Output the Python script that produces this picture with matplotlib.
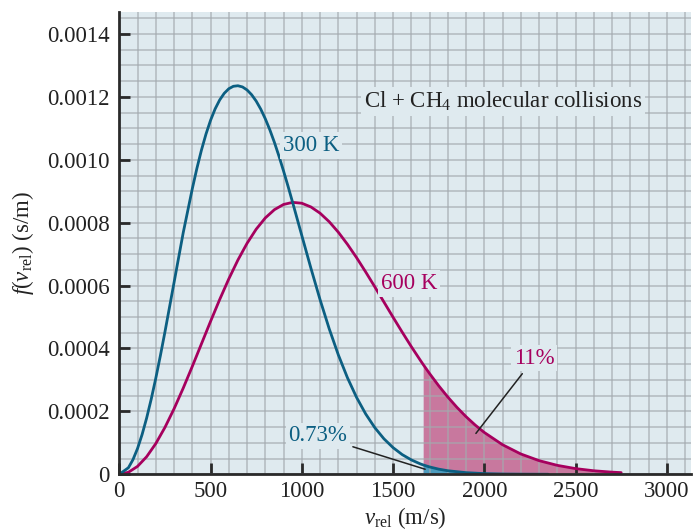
## import necessary libraries
import numpy as np
import matplotlib
matplotlib.use('Agg')
import matplotlib.pyplot as plt
from matplotlib.ticker import MultipleLocator, FixedLocator

# ------------------------------------------------------------------------------------------------
## data (f values in units of 1e-4 s/m)
v_300 = [0, 50, 75, 100, 125, 150, 175, 200, 225, 250, 300, 350, 400, 425, 450, 475, 500,
         525, 550, 575, 600, 625, 650, 675, 700, 725, 750, 775, 800, 825, 850, 875, 900,
         925, 950, 975, 1000, 1050, 1100, 1150, 1200, 1250, 1300, 1350, 1400, 1450, 1500,
         1550, 1600, 1650, 1665, 1700, 1750, 1800, 1900, 2000, 2100, 2200, 2350]
f_300 = [0, 0.209, 0.467, 0.821, 1.266, 1.793, 2.393, 3.056, 3.77, 4.523, 6.097, 7.675,
         9.08, 9.724, 10.306, 10.818, 11.256, 11.618, 11.903, 12.115, 12.26, 12.338, 12.355,
         12.317, 12.221, 12.07, 11.867, 11.612, 11.305, 10.951, 10.552, 10.114, 9.644,
         9.151, 8.638, 8.116, 7.593, 6.552, 5.554, 4.63, 3.80, 3.072, 2.446, 1.919, 1.483,
         1.129, 0.848, 0.627, 0.458, 0.329, 0.298, 0.234, 0.164, 0.113, 0.052, 0.022,
         0.009, 0.004, 0.001]

v_600 = [0, 50, 100, 150, 200, 250, 300, 350, 400, 450, 500, 550, 600, 650, 700, 750, 800,
         850, 900, 950, 1000, 1050, 1100, 1150, 1200, 1250, 1300, 1350, 1400, 1450, 1500,
         1550, 1600, 1650, 1665, 1700, 1750, 1800, 1850, 1900, 1950, 2000, 2100, 2200, 2300,
         2400, 2500, 2600, 2700, 2750]
f_600 = [0, 0.064, 0.252, 0.56, 0.977, 1.49, 2.082, 2.736, 3.431, 4.146, 4.862, 5.557,
         6.213, 6.814, 7.344, 7.793, 8.152, 8.415, 8.58, 8.647, 8.619, 8.501, 8.303, 8.032,
         7.699, 7.314, 6.89, 6.434, 5.961, 5.478, 4.995, 4.521, 4.06, 3.62, 3.492, 3.204,
         2.816, 2.457, 2.129, 1.832, 1.566, 1.33, 0.94, 0.646, 0.434, 0.284, 0.181, 0.112,
         0.068, 0.053]

# speed above which the tails are shaded
v_cut = 1665

x_ticks = [0, 500, 1000, 1500, 2000, 2500, 3000]
y_ticks = [0, 0.0002, 0.0004, 0.0006, 0.0008, 0.0010, 0.0012, 0.0014]
y_tick_labels = ['0', '0.0002', '0.0004', '0.0006', '0.0008', '0.0010', '0.0012', '0.0014']

# ------------------------------------------------------------------------------------------------
## style
BG = '#dfeaef'
BLUE = '#0c5f82'
MAGENTA = '#a6005e'
PINK_FILL = '#c8789e'
BLUE_FILL = '#4d9cbe'
GRID = '#a3aaae'
FS = 16.5

plt.rcParams['font.family'] = ['Liberation Serif', 'DejaVu Serif']
plt.rcParams['mathtext.fontset'] = 'custom'
plt.rcParams['mathtext.rm'] = 'Liberation Serif'
plt.rcParams['mathtext.it'] = 'Liberation Serif:italic'

v3 = np.array(v_300)
f3 = np.array(f_300) * 1e-4
v6 = np.array(v_600)
f6 = np.array(f_600) * 1e-4

fig = plt.figure(figsize=(6.94, 5.31), dpi=100)
ax = fig.add_axes([0.1719, 0.1068, 0.8231, 0.87])
ax.set_facecolor(BG)

# ------------------------------------------------------------------------------------------------
## shaded tails
ax.fill_between(v6, f6, where=v6 >= v_cut, color=PINK_FILL, lw=0, zorder=1)
ax.fill_between(v3, f3, where=v3 >= v_cut, color=BLUE_FILL, lw=0, zorder=1.1)

# curves
ax.plot(v3, f3, color=BLUE, lw=2, zorder=2.2, solid_capstyle='round')
ax.plot(v6, f6, color=MAGENTA, lw=2, zorder=2.1, solid_capstyle='round')

# ------------------------------------------------------------------------------------------------
## axes, ticks and grid
ax.set_xlim(0, 3130)
ax.set_ylim(0, 0.001469)
ax.xaxis.set_major_locator(FixedLocator(x_ticks))
ax.yaxis.set_major_locator(FixedLocator(y_ticks))
ax.set_yticklabels(y_tick_labels)
ax.xaxis.set_minor_locator(MultipleLocator(100))
ax.yaxis.set_minor_locator(MultipleLocator(0.00005))
ax.set_axisbelow('line')
# semi transparent grid so it shows through the shaded tails
ax.grid(which='both', color=GRID, lw=1.4, alpha=0.6)
ax.tick_params(which='major', direction='in', length=8, width=2, color='#2a2a2a',
               labelsize=FS, labelcolor='#222222')
ax.tick_params(axis='y', pad=7)
ax.tick_params(axis='x', pad=5)
ax.tick_params(which='minor', length=0)
for s in ['top', 'right']:
    ax.spines[s].set_visible(False)
for s in ['left', 'bottom']:
    ax.spines[s].set_linewidth(2)
    ax.spines[s].set_color('#2a2a2a')
    ax.spines[s].set_zorder(3)

ax.set_xlabel(r'$\mathit{v}_{\rm rel}$ (m/s)', fontsize=FS, color='#222222', labelpad=2)
ax.set_ylabel(r'$\mathit{f}$($\mathit{v}_{\rm rel}$) (s/m)', fontsize=FS, color='#222222',
              labelpad=8)

# ------------------------------------------------------------------------------------------------
## labels and annotations
box = dict(facecolor=BG, edgecolor='none', pad=2)
ax.text(2104, 0.001185, r'Cl + CH$_4$ molecular collisions', fontsize=FS, color='#222222',
        ha='center', va='center', bbox=box, zorder=4)
ax.text(1050, 0.001045, '300 K', fontsize=FS, color=BLUE, ha='center', va='center',
        bbox=box, zorder=4)
ax.text(1589, 0.000607, '600 K', fontsize=FS, color=MAGENTA, ha='center', va='center',
        bbox=box, zorder=4)
ax.annotate('11%', xy=(1954, 0.000130), xytext=(2274, 0.000369), fontsize=FS,
            color=MAGENTA, ha='center', va='center', bbox=box, zorder=4,
            arrowprops=dict(arrowstyle='-', color='#222222', lw=1.1, shrinkA=2, shrinkB=0))
ax.annotate('0.73%', xy=(1676, 0.000016), xytext=(1089, 0.000122), fontsize=FS,
            color=BLUE, ha='center', va='center', bbox=box, zorder=4,
            arrowprops=dict(arrowstyle='-', color='#222222', lw=1.1, shrinkA=2, shrinkB=0))

fig.savefig('out.png', dpi=100, facecolor='white')
print("saved out.png")
